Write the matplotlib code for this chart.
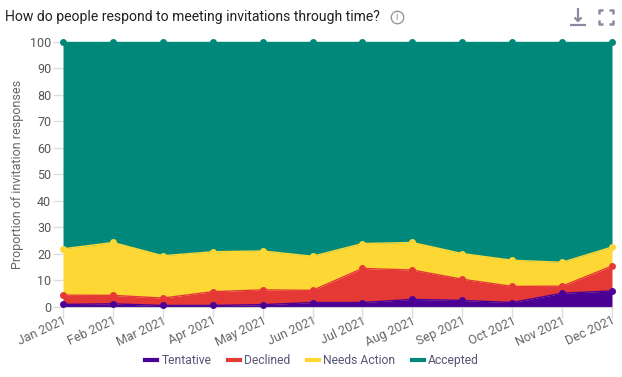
import numpy as np
import matplotlib
matplotlib.use('Agg')
import matplotlib.pyplot as plt
from matplotlib.lines import Line2D

plt.rcParams['font.family'] = ['Roboto', 'DejaVu Sans']

months = ['Jan 2021', 'Feb 2021', 'Mar 2021', 'Apr 2021', 'May 2021', 'Jun 2021',
          'Jul 2021', 'Aug 2021', 'Sep 2021', 'Oct 2021', 'Nov 2021', 'Dec 2021']
tentative = [0.8, 1.0, 0.4, 0.4, 0.7, 1.5, 1.5, 2.7, 2.3, 1.5, 5.0, 5.9]
declined = [3.5, 3.2, 2.8, 5.2, 5.6, 4.6, 12.9, 11.1, 8.0, 6.1, 2.7, 9.4]
needs_action = [17.5, 20.0, 16.0, 15.1, 14.7, 12.9, 9.4, 10.4, 9.7, 9.9, 9.0, 7.2]
accepted = [78.2, 75.8, 80.8, 79.3, 79.0, 81.0, 76.2, 75.8, 80.0, 82.5, 83.3, 77.5]

names = ['Tentative', 'Declined', 'Needs Action', 'Accepted']
colors = ['#4a0095', '#e53935', '#fdd835', '#00897b']
W, H = 622, 377

fig = plt.figure(figsize=(W / 100, H / 100), dpi=100)
ax = fig.add_axes([63 / W, 1 - 306.5 / H, 549 / W, 264.5 / H])

# stack the series, each one gets a filled band and dots on its top edge
x = np.arange(len(months))
bottom = np.zeros(len(months))
for vals, name, c in zip([tentative, declined, needs_action, accepted], names, colors):
    top = bottom + np.array(vals)
    ax.fill_between(x, bottom, top, color=c, lw=0, zorder=2)
    ax.plot(x, top, color=c, lw=1, zorder=3, clip_on=False)
    ax.plot(x, top, 'o', color=c, ms=5, mew=0, zorder=4, clip_on=False)
    bottom = top

ax.set_xlim(0, len(months) - 1)
ax.set_ylim(0, 100)
ax.set_yticks(np.arange(0, 101, 10))
ax.set_xticks(x)
ax.set_xticklabels(months, rotation=25, ha='right', rotation_mode='anchor')
ax.tick_params(axis='y', length=7, width=1, color='#dddddd', labelcolor='#555555', labelsize=9, pad=1.5)
ax.tick_params(axis='x', length=8, width=1, color='#dddddd', labelcolor='#666666', labelsize=9, pad=-2.5)
for s in ['top', 'right', 'left']:
    ax.spines[s].set_visible(False)
ax.spines['bottom'].set_color('#cccccc')
ax.set_ylabel('Proportion of invitation responses', fontsize=9, color='#666666', labelpad=4)

fig.text(5 / W, 1 - 17 / H, 'How do people respond to meeting invitations through time?',
         fontsize=10.1, color='#202124', va='center', ha='left')


def icon_line(xs, ys, c='#8a8aa0', lw=1.6):
    fig.add_artist(Line2D([a / W for a in xs], [1 - b / H for b in ys], color=c, lw=lw,
                          solid_capstyle='butt'))


# info icon next to the title
fig.add_artist(Line2D([397 / W], [1 - 17 / H], marker='o', ms=9, mfc='none', mec='#909090', mew=0.9))
fig.text(397 / W, 1 - 17 / H, 'i', fontsize=7, color='#909090', ha='center', va='center')

# download icon
icon_line([578, 578], [8, 20])
icon_line([574.5, 578, 581.5], [17.5, 21, 17.5])
icon_line([570, 586], [24.7, 24.7])

# fullscreen icon
for cx, cy, dx, dy in [(599, 10, 1, 1), (613, 10, -1, 1), (599, 24, 1, -1), (613, 24, -1, -1)]:
    icon_line([cx, cx, cx + 4 * dx], [cy + 4 * dy, cy, cy], lw=1.8)

handles = [Line2D([0], [0], color=c, lw=3) for c in colors]
fig.legend(handles, names, loc='center', bbox_to_anchor=(312 / W, 1 - 360.5 / H), ncol=4, frameon=False,
           fontsize=8.7, labelcolor='#555577', handlelength=1.0, handletextpad=0.35, columnspacing=1.35)

fig.savefig('out.png', dpi=100)
